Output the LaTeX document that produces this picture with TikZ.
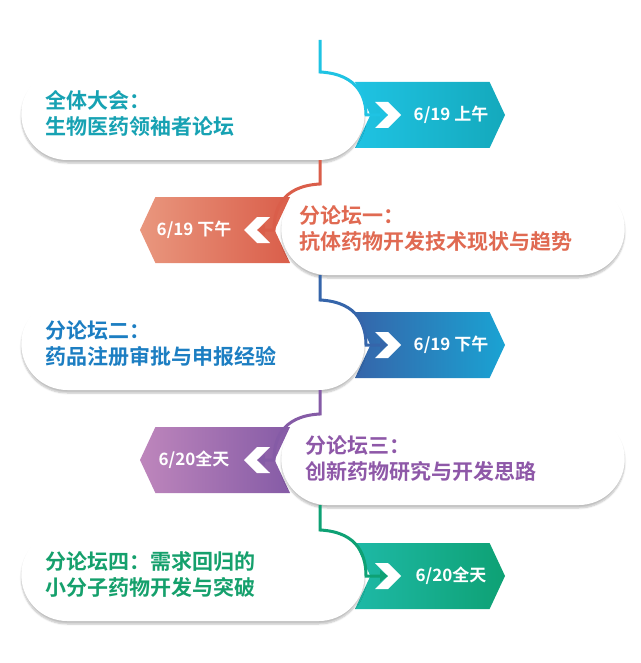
\documentclass[tikz,border=0pt]{standalone}
\usepackage{fontspec}
\newfontfamily\cjk{Noto Sans CJK SC Bold}
\usetikzlibrary{shapes.misc,shapes.symbols,shadows.blur,arrows.meta,positioning}
\definecolor{cyanA}{HTML}{1FC3E3}\definecolor{cyanB}{HTML}{14A9BC}\definecolor{cyanT}{HTML}{17A2B3}
\definecolor{redA}{HTML}{E9977E}\definecolor{redB}{HTML}{DA5E4A}\definecolor{redT}{HTML}{E06A52}
\definecolor{bluA}{HTML}{3565AA}\definecolor{bluB}{HTML}{1AA3D3}\definecolor{bluT}{HTML}{1C7EC2}
\definecolor{purA}{HTML}{BE86BC}\definecolor{purB}{HTML}{855BA6}\definecolor{purT}{HTML}{8E58A8}
\definecolor{grnA}{HTML}{1EB9A6}\definecolor{grnB}{HTML}{0EA174}\definecolor{grnT}{HTML}{15A06C}
\tikzset{
  card/.style={rounded rectangle, fill=white, minimum width=350pt, minimum height=92pt,
    blur shadow={shadow blur steps=6, shadow xshift=0pt, shadow yshift=-3pt, shadow opacity=25},
    text width=296pt, align=left, font=\cjk\fontsize{21}{26}\selectfont},
  tagr/.style={signal, signal to=east, signal from=west, signal pointer angle=130,
    minimum width=150pt, minimum height=66pt,
    inner sep=0pt, text=white, font=\cjk\fontsize{17}{20}\selectfont},
  tagl/.style={signal, signal to=west, signal from=east, signal pointer angle=130,
    minimum width=150pt, minimum height=66pt,
    inner sep=0pt, text=white, font=\cjk\fontsize{17}{20}\selectfont},
  notchr/.style={signal, signal to=east, signal from=west, fill=white, minimum width=18pt,
    minimum height=26pt, inner sep=0pt},
  notchl/.style={signal, signal to=west, signal from=east, fill=white, minimum width=18pt,
    minimum height=26pt, inner sep=0pt},
  link/.style={line width=3pt, -{Triangle[length=8pt,width=11pt]}},
}
\begin{document}
\begin{tikzpicture}[x=1pt,y=-1pt]
  \useasboundingbox (0,0) rectangle (640,663);
  % tags behind the cards
  \node[tagr, left color=cyanA, right color=cyanB] (t1) at (430,115) {\hspace*{42pt}6/19 上午};
  \node[tagl, left color=redA, right color=redB] (t2) at (215,230) {6/19 下午\hspace*{42pt}};
  \node[tagr, left color=bluA, right color=bluB] (t3) at (430,345) {\hspace*{42pt}6/19 下午};
  \node[tagl, left color=purA, right color=purB] (t4) at (215,460) {6/20全天\hspace*{42pt}};
  \node[tagr, left color=grnA, right color=grnB] (t5) at (430,576) {\hspace*{42pt}6/20全天};
  % white notches
  \node[notchr] (n1) at (388,115) {};
  \node[notchl] (n2) at (257,230) {};
  \node[notchr] (n3) at (388,345) {};
  \node[notchl] (n4) at (257,460) {};
  \node[notchr] (n5) at (388,576) {};
  % cards
  \node[card, text=cyanT] (c1) at (193,114) {全体大会：\\生物医药领袖者论坛};
  \node[card, text=redT] (c2) at (453,229) {\hspace*{-6pt}分论坛一：\\\hspace*{-6pt}抗体药物开发技术现状与趋势};
  \node[card, text=bluT] (c3) at (193,344) {分论坛二：\\药品注册审批与申报经验};
  \node[card, text=purT] (c4) at (453,459) {分论坛三：\\创新药物研究与开发思路};
  \node[card, text=grnT] (c5) at (193,575) {分论坛四：需求回归的\\小分子药物开发与突破};
  % timeline
  \coordinate (s1) at (320,40);
  \draw[link, cyanA] (s1) -- (320,72) .. controls (360,74) and (366,100) .. (366,115) -- (n1.center);
  \draw[link, redB] (c1.south -| s1) -- (320,184) .. controls (280,186) and (274,212) .. (274,230) -- (n2.center);
  \draw[link, bluA] (c2.south -| s1) -- (320,300) .. controls (360,302) and (366,328) .. (366,345) -- (n3.center);
  \draw[link, purB] (c3.south -| s1) -- (320,414) .. controls (280,416) and (274,442) .. (274,460) -- (n4.center);
  \draw[link, grnB] (c4.south -| s1) -- (320,530) .. controls (360,532) and (366,558) .. (366,576) -- (n5.center);
\end{tikzpicture}
\end{document}
